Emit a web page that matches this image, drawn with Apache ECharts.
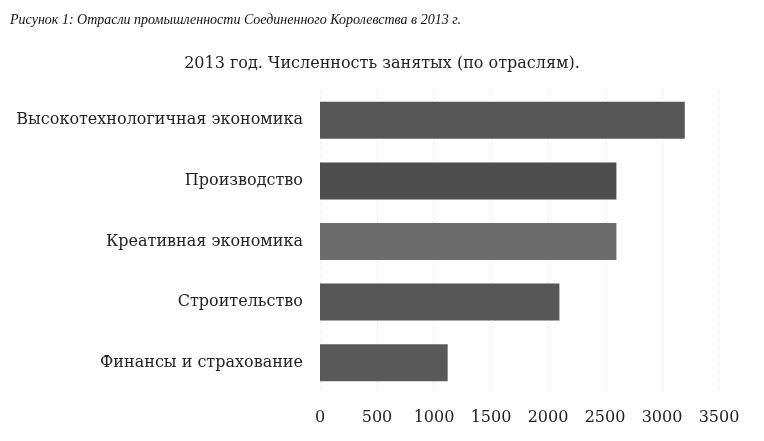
<!DOCTYPE html>
<html>
<head>
<meta charset="utf-8">
<script src="https://cdn.jsdelivr.net/npm/echarts@6/dist/echarts.min.js"></script>
<style>
  html, body { margin: 0; padding: 0; background: #fff; }
  #chart { width: 764px; height: 441px; }
</style>
</head>
<body>
<div id="chart"></div>
<script>
// data
const industries = [
    'Высокотехнологичная экономика',
    'Производство',
    'Креативная экономика',
    'Строительство',
    'Финансы и страхование'
];
const employed = [3200, 2600, 2600, 2100, 1120];
const xTicks = [0, 500, 1000, 1500, 2000, 2500, 3000, 3500];

// per-bar grey shades as they appear in the scan
const barShades = ['#575757', '#4d4d4d', '#6c6c6c', '#575757', '#595959'];

const serif = '"DejaVu Serif", "Liberation Serif", serif';

const chart = echarts.init(document.getElementById('chart'));

chart.setOption({
    animation: false,
    backgroundColor: '#fff',
    title: [
        {
            text: 'Рисунок 1: Отрасли промышленности Соединенного Королевства в 2013 г.',
            left: 5,
            top: 8,
            textStyle: { fontFamily: '"Liberation Serif", serif', fontStyle: 'italic', fontWeight: 'normal', fontSize: 14, color: '#111' }
        },
        {
            text: '2013 год. Численность занятых (по отраслям).',
            left: 'center',
            top: 51,
            textStyle: { fontFamily: serif, fontWeight: 'normal', fontSize: 16, color: '#222' }
        }
    ],
    grid: { left: 320, right: 45, top: 90, bottom: 48, containLabel: false },
    xAxis: {
        type: 'value',
        min: xTicks[0],
        max: xTicks[xTicks.length - 1],
        interval: 500,
        axisLine: { show: false },
        axisTick: { show: false },
        axisLabel: {
            fontFamily: serif, fontSize: 16, color: '#222', margin: 17,
            formatter: v => String(v)
        },
        splitLine: { show: true, lineStyle: { color: '#dcdcdc', type: [1, 3], width: 1 } }
    },
    yAxis: {
        type: 'category',
        data: industries,
        inverse: true,
        axisLine: { show: false },
        axisTick: { show: false },
        axisLabel: { fontFamily: serif, fontSize: 16, color: '#222', margin: 17 }
    },
    series: [{
        type: 'bar',
        data: employed.map((v, i) => ({ value: v, itemStyle: { color: barShades[i] } })),
        barWidth: 37
    }]
});
</script>
</body>
</html>
